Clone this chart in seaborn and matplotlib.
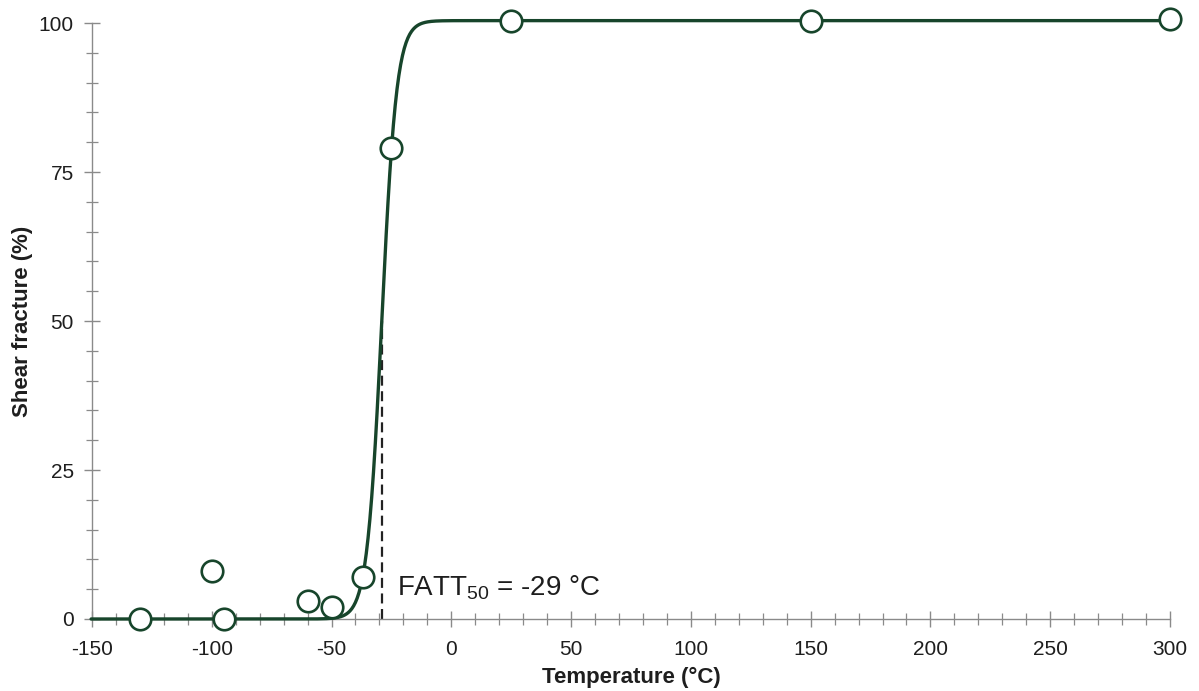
import numpy as np
import pandas as pd
import matplotlib
matplotlib.use("Agg")
import matplotlib.pyplot as plt
import seaborn as sns
from matplotlib.ticker import MultipleLocator

# Measured points (temperature in °C, shear fracture %)
temps = [-130, -100, -95, -60, -50, -37, -25, 25, 150, 300]
shear = [0, 8, 0, 3, 2, 7, 79, 100.3, 100.4, 100.6]

# tanh fit parameters of the transition curve
lower_shelf = 0.0
upper_shelf = 100.4
fatt50 = -29.0
width_c = 6.2
curve_t_start, curve_t_end = -153, 300

x_ticks = [-150, -100, -50, 0, 50, 100, 150, 200, 250, 300]
y_ticks = [0, 25, 50, 75, 100]

sns.set_theme(style="white")
plt.rcParams['font.family'] = ['Liberation Sans', 'DejaVu Sans']
plt.rcParams['mathtext.fontset'] = 'custom'
plt.rcParams['mathtext.rm'] = 'Liberation Sans'

green = '#17452b'
grey = '#8a8a8a'

fig = plt.figure(figsize=(11.99, 6.91), dpi=100)
ax = fig.add_axes([0.0767, 0.1042, 0.8991, 0.8625])

t_curve = np.linspace(curve_t_start, curve_t_end, 1200)
s_curve = lower_shelf + (upper_shelf - lower_shelf) / 2 * (1 + np.tanh((t_curve - fatt50) / width_c))
curve_df = pd.DataFrame({'T': t_curve, 'S': s_curve})
pts_df = pd.DataFrame({'T': temps, 'S': shear})

# dashed FATT marker line
ax.plot([fatt50, fatt50], [0, 50], ls=(0, (4.5, 2.5)), color='#222222', lw=1.6, zorder=2)

sns.lineplot(data=curve_df, x='T', y='S', ax=ax, color=green, lw=2.4, zorder=3,
             estimator=None, sort=False)
ax.lines[-1].set_clip_on(False)
sns.scatterplot(data=pts_df, x='T', y='S', ax=ax, s=240, facecolor='white',
                edgecolor=green, linewidth=1.9, zorder=4, clip_on=False)

ax.text(-22.7, 4.0, r'FATT$_{\mathregular{50}}$ = -29 °C', fontsize=20,
        color='#1e1e1e', va='baseline', ha='left')

ax.set_xlim(-150, 300)
ax.set_ylim(0, 100)
ax.set_xticks(x_ticks)
ax.set_xticklabels([str(v) for v in x_ticks])
ax.set_yticks(y_ticks)
ax.set_yticklabels([str(v) for v in y_ticks])
ax.xaxis.set_minor_locator(MultipleLocator(10))
ax.yaxis.set_minor_locator(MultipleLocator(5))

for side in ['top', 'right']:
    ax.spines[side].set_visible(False)
for side in ['left', 'bottom']:
    ax.spines[side].set_color(grey)
    ax.spines[side].set_linewidth(1.0)

ax.tick_params(axis='x', which='both', bottom=True, top=False)
ax.tick_params(axis='y', which='both', left=True, right=False)
ax.tick_params(axis='both', which='major', direction='inout', length=12, width=1.0,
               color=grey, labelsize=15, labelcolor='#1e1e1e')
ax.tick_params(axis='x', which='major', pad=9)
ax.tick_params(axis='y', which='major', pad=7)
ax.tick_params(axis='both', which='minor', direction='inout', length=8, width=0.9,
               color=grey)

ax.set_xlabel('Temperature (°C)', fontsize=16, fontweight='bold', color='#1e1e1e', labelpad=6)
ax.set_ylabel('Shear fracture (%)', fontsize=16, fontweight='bold', color='#1e1e1e', labelpad=4)
ax.grid(False)

fig.savefig('out.png', dpi=100, facecolor='white')
